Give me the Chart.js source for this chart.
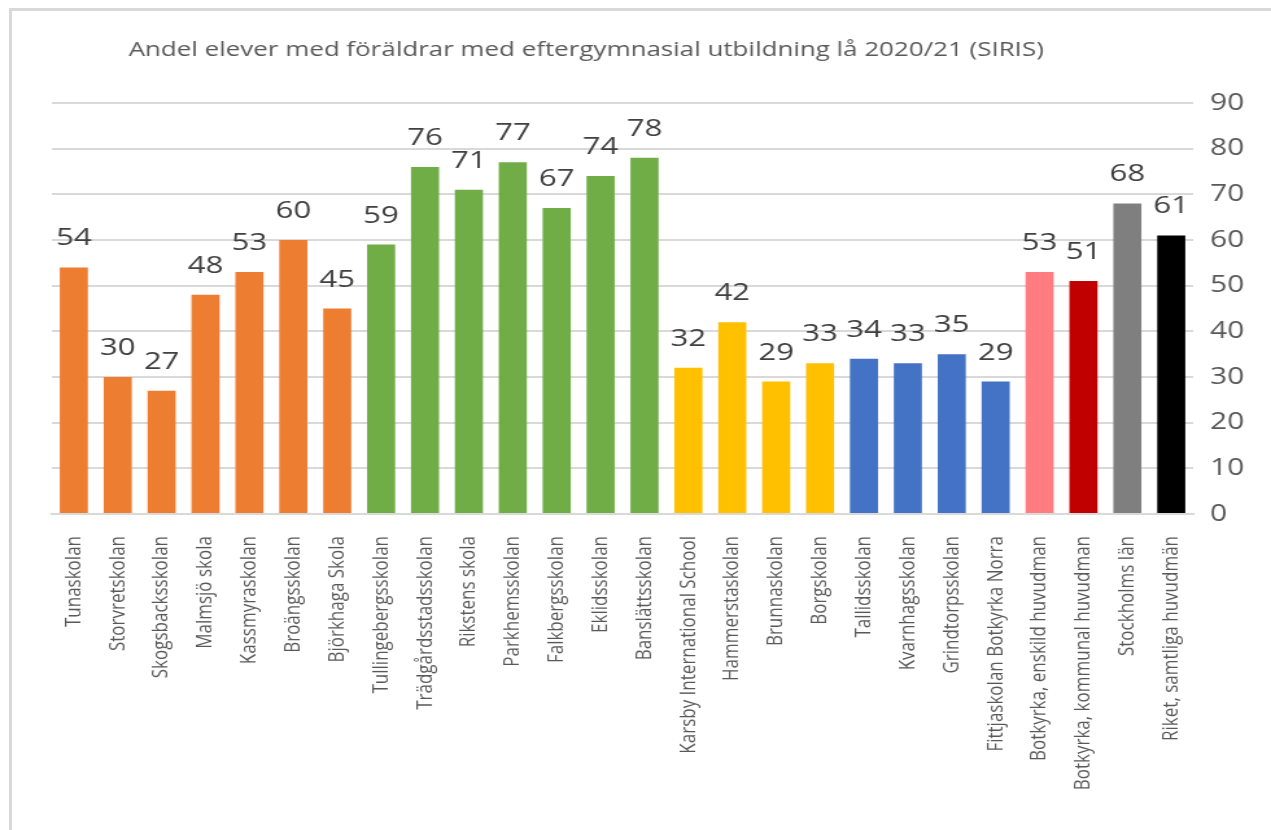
<!DOCTYPE html>
<html>
<head>
<meta charset="utf-8">
<script src="https://cdn.jsdelivr.net/npm/chart.js@4/dist/chart.umd.min.js"></script>
<style>
  html, body { margin: 0; padding: 0; background: #fff; overflow: hidden; }
  #frame { position: absolute; left: 9px; top: 8px; width: 1300px; height: 900px;
           border-top: 3px solid #d9d9d9; border-left: 3px solid #d9d9d9; }
  #chart { position: absolute; left: 0; top: 0; }
</style>
</head>
<body>
<div id="frame"></div>
<!-- drawn at 980 wide and stretched to 1271, like the original picture -->
<canvas id="chart" width="980" height="830" style="width:1271px;height:830px"></canvas>
<script>
const TITLE = "Andel elever med föräldrar med eftergymnasial utbildning lå 2020/21 (SIRIS)";

const schools = [
  "Tunaskolan", "Storvretskolan", "Skogsbacksskolan", "Malmsjö skola", "Kassmyraskolan",
  "Broängsskolan", "Björkhaga Skola", "Tullingebergsskolan", "Trädgårdsstadsskolan",
  "Rikstens skola", "Parkhemsskolan", "Falkbergsskolan", "Eklidsskolan", "Banslättsskolan",
  "Karsby International School", "Hammerstaskolan", "Brunnaskolan", "Borgskolan",
  "Tallidsskolan", "Kvarnhagsskolan", "Grindtorpsskolan", "Fittjaskolan Botkyrka Norra",
  "Botkyrka, enskild huvudman", "Botkyrka, kommunal huvudman", "Stockholms län",
  "Riket, samtliga huvudmän"
];

const shares = [54, 30, 27, 48, 53, 60, 45, 59, 76, 71, 77, 67, 74, 78,
                32, 42, 29, 33, 34, 33, 35, 29, 53, 51, 68, 61];

const ORANGE = "#ED7D31", GREEN = "#70AD47", YELLOW = "#FFC000", BLUE = "#4472C4";
const barColors = [
  ORANGE, ORANGE, ORANGE, ORANGE, ORANGE, ORANGE, ORANGE,
  GREEN, GREEN, GREEN, GREEN, GREEN, GREEN, GREEN,
  YELLOW, YELLOW, YELLOW, YELLOW,
  BLUE, BLUE, BLUE, BLUE,
  "#FF7C80", "#C00000", "#7F7F7F", "#000000"
];

const yTicks = [0, 10, 20, 30, 40, 50, 60, 70, 80, 90];

const FONT = "'Open Sans', sans-serif";

const titlePlugin = {
  id: "excelTitle",
  afterDraw(chart) {
    const ctx = chart.ctx;
    ctx.save();
    ctx.font = "20px " + FONT;
    ctx.fillStyle = "#595959";
    ctx.textAlign = "center";
    ctx.textBaseline = "middle";
    ctx.fillText(TITLE, 452, 50);
    ctx.restore();
  }
};

const valueLabels = {
  id: "valueLabels",
  afterDatasetsDraw(chart) {
    const ctx = chart.ctx;
    const meta = chart.getDatasetMeta(0);
    ctx.save();
    ctx.font = "24px " + FONT;
    ctx.fillStyle = "#404040";
    ctx.textAlign = "center";
    ctx.textBaseline = "alphabetic";
    meta.data.forEach((bar, i) => {
      ctx.fillText(String(shares[i]), bar.x, bar.y - 22);
    });
    ctx.restore();
  }
};

new Chart(document.getElementById("chart"), {
  type: "bar",
  data: {
    labels: schools,
    datasets: [{
      data: shares,
      backgroundColor: barColors,
      borderWidth: 0,
      barPercentage: 0.64,
      categoryPercentage: 1.0
    }]
  },
  options: {
    responsive: false,
    devicePixelRatio: 1,
    animation: false,
    layout: { padding: { left: 40, top: 103, right: 0, bottom: 0 } },
    plugins: {
      legend: { display: false },
      title: { display: false },
      tooltip: { enabled: false }
    },
    scales: {
      x: {
        grid: { display: false },
        border: { display: true, color: "#d9d9d9", width: 2 },
        ticks: {
          autoSkip: false,
          maxRotation: 90,
          minRotation: 90,
          padding: 14,
          color: "#595959",
          font: { family: FONT, size: 17 }
        },
        afterFit(scale) { scale.height = 316; }
      },
      y: {
        position: "right",
        min: 0,
        max: 90,
        afterBuildTicks(scale) { scale.ticks = yTicks.map(v => ({ value: v })); },
        grid: { color: "#d9d9d9", lineWidth: 2, drawTicks: false },
        border: { display: false },
        ticks: {
          padding: 13,
          color: "#595959",
          font: { family: FONT, size: 23 }
        },
        afterFit(scale) { scale.width = 60; }
      }
    }
  },
  plugins: [titlePlugin, valueLabels]
});
</script>
</body>
</html>
